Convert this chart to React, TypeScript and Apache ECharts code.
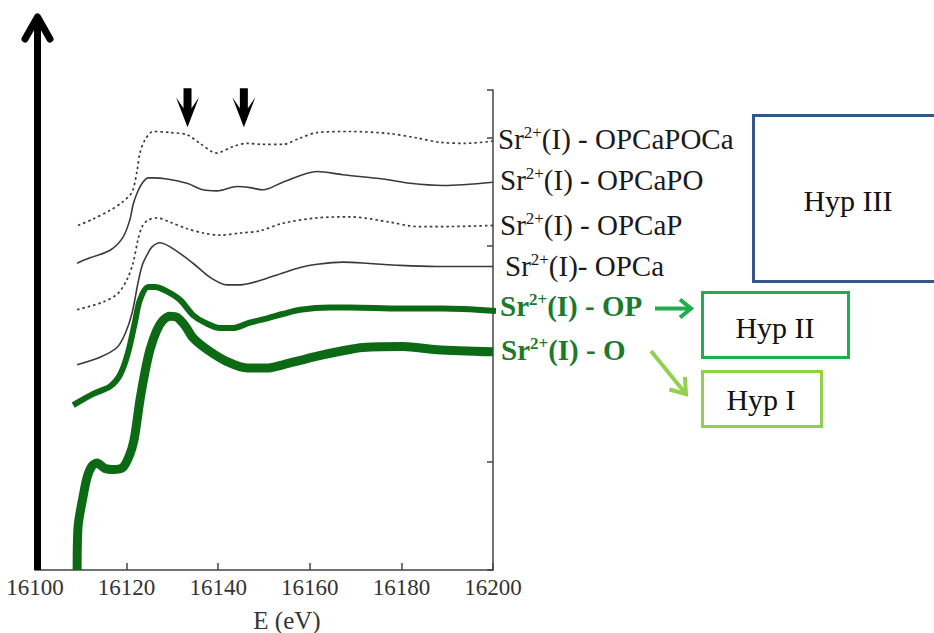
import React, { useEffect, useRef } from "react";
import * as echarts from "echarts";

const W = 934;
const H = 633;
const SERIF = "Liberation Serif, serif";

// X-ray absorption spectra (stacked with offsets), E in eV, absorbance in offset units
const opcapocaE = [16109.4, 16112.7, 16116.4, 16119.2, 16121.2, 16122.3, 16122.9, 16124.0, 16125.8, 16129.5, 16133.2, 16136.0, 16139.7, 16143.2, 16146.3, 16149.5, 16154.1, 16157.9, 16161.6, 16168.8, 16177.5, 16183.4, 16188.4, 16193.9, 16200];
const opcapocaY = [3.19, 3.25, 3.33, 3.41, 3.5, 3.7, 3.86, 3.98, 4.06, 4.05, 4.03, 3.95, 3.86, 3.92, 3.95, 3.94, 3.94, 4.0, 4.05, 4.06, 4.04, 4.0, 3.96, 3.95, 3.97];

const opcapoE = [16109.2, 16112.0, 16116.4, 16119.2, 16120.7, 16121.4, 16122.3, 16123.4, 16124.7, 16125.8, 16128.8, 16133.2, 16136.7, 16139.7, 16144.1, 16146.9, 16149.8, 16154.1, 16161.6, 16167.2, 16176.0, 16181.9, 16189.1, 16200];
const opcapoY = [2.84, 2.89, 2.96, 3.08, 3.24, 3.38, 3.49, 3.58, 3.63, 3.63, 3.62, 3.58, 3.52, 3.51, 3.55, 3.54, 3.52, 3.59, 3.69, 3.66, 3.62, 3.58, 3.56, 3.59];

const opcapE = [16109.2, 16114.8, 16118.1, 16120.1, 16121.4, 16122.5, 16123.4, 16124.7, 16126.6, 16129.5, 16133.2, 16136.7, 16140.4, 16144.8, 16149.1, 16154.1, 16161.6, 16168.8, 16177.5, 16183.4, 16190.6, 16200];
const opcapY = [2.41, 2.48, 2.56, 2.69, 2.84, 3.06, 3.18, 3.24, 3.26, 3.22, 3.16, 3.12, 3.1, 3.12, 3.14, 3.21, 3.26, 3.27, 3.22, 3.18, 3.18, 3.19];

const opcaE = [16109.2, 16114.2, 16117.9, 16119.7, 16121.2, 16122.5, 16123.4, 16124.5, 16125.5, 16127.3, 16131.0, 16134.5, 16138.2, 16141.9, 16144.8, 16149.1, 16154.1, 16157.9, 16161.6, 16167.2, 16172.5, 16179.7, 16187.8, 16200];
const opcaY = [1.9, 1.97, 2.06, 2.19, 2.38, 2.66, 2.82, 2.92, 2.99, 3.03, 2.95, 2.84, 2.71, 2.64, 2.64, 2.68, 2.75, 2.8, 2.83, 2.85, 2.84, 2.82, 2.81, 2.81];

const opE = [16108.9, 16112.7, 16116.4, 16118.6, 16120.3, 16121.8, 16122.9, 16124.7, 16126.2, 16128.8, 16131.7, 16134.5, 16137.1, 16140.4, 16143.2, 16146.9, 16150.7, 16154.1, 16157.9, 16164.4, 16168.8, 16179.7, 16189.1, 16200];
const opY = [1.54, 1.63, 1.7, 1.81, 2.01, 2.29, 2.5, 2.62, 2.62, 2.58, 2.5, 2.36, 2.29, 2.24, 2.24, 2.29, 2.33, 2.37, 2.41, 2.43, 2.43, 2.42, 2.42, 2.4];

const oE = [16109.2, 16109.4, 16110.5, 16111.4, 16112.4, 16113.5, 16115.3, 16117.0, 16119.2, 16120.7, 16121.6, 16122.3, 16122.9, 16124.0, 16125.1, 16126.6, 16127.9, 16129.5, 16131.0, 16132.8, 16134.5, 16137.6, 16141.9, 16146.3, 16150.7, 16154.1, 16157.9, 16161.6, 16167.2, 16171.6, 16180.3, 16187.8, 16200];
const oY = [0.0, 0.4, 0.68, 0.86, 0.96, 0.99, 0.94, 0.93, 0.95, 1.07, 1.2, 1.39, 1.57, 1.83, 2.04, 2.22, 2.31, 2.35, 2.34, 2.26, 2.15, 2.04, 1.93, 1.87, 1.87, 1.9, 1.94, 1.98, 2.03, 2.06, 2.07, 2.04, 2.02];

// feature markers (down arrows)
const featureE = [16133.3, 16145.6];
const featureLevel = 4.28;

const seriesNames = [
  "Sr2+(I) - OPCaPOCa",
  "Sr2+(I) - OPCaPO",
  "Sr2+(I) - OPCaP",
  "Sr2+(I)- OPCa",
  "Sr2+(I) - OP",
  "Sr2+(I) - O",
];
const labelSuffix = ["(I) - OPCaPOCa", "(I) - OPCaPO", "(I) - OPCaP", "(I)- OPCa", "(I) - OP", "(I) - O"];
const hypTexts = ["Hyp III", "Hyp II", "Hyp I"];

const zip = (xs: number[], ys: number[]) => xs.map((x, i) => [x, ys[i]]);

const DARK_GREEN = "#0d6a14";
const LABEL_GREEN = "#1c7a2b";
const MID_GREEN = "#1fae4b";
const LIGHT_GREEN = "#92d050";
const BLUE = "#34578a";

function seriesLabel(i: number, x: number, y: number, green: boolean) {
  const fw = green ? "bold" : "normal";
  const color = green ? LABEL_GREEN : "#1a1a1a";
  return {
    type: "text",
    x,
    y,
    z: 50,
    style: {
      text: `{m|Sr}{s|2+}{m|${labelSuffix[i]}}`,
      align: "left",
      verticalAlign: "middle",
      fontFamily: SERIF,
      rich: {
        m: { fontFamily: SERIF, fontSize: 29, fontWeight: fw, lineHeight: 30, fill: color, color },
        s: { fontFamily: SERIF, fontSize: 17, fontWeight: fw, lineHeight: 17, verticalAlign: "top", fill: color, color },
      },
    },
  };
}

function buildOption() {
  const thin = (name: string, e: number[], y: number[], dotted: boolean) => ({
    name,
    type: "line",
    data: zip(e, y),
    showSymbol: false,
    smooth: 0.3,
    clip: true,
    lineStyle: dotted
      ? { color: "#3a3a3a", width: 1.7, type: [2.5, 3] }
      : { color: "#3a3a3a", width: 1.6, type: "solid" },
    z: 3,
  });

  const tipX = 686, tipY = 394, fromX = 651, fromY = 351;
  const dx = tipX - fromX, dy = tipY - fromY;
  const len = Math.hypot(dx, dy);
  const ux = dx / len, uy = dy / len;
  const bx = tipX - 14 * ux, by = tipY - 14 * uy;

  return {
    animation: false,
    backgroundColor: "#ffffff",
    textStyle: { fontFamily: SERIF },
    grid: { left: 35, right: W - 493, top: 90, bottom: H - 570, containLabel: false, outerBoundsMode: "none" },
    xAxis: {
      type: "value",
      min: 16100,
      max: 16200,
      interval: 20,
      axisLine: { show: true, lineStyle: { color: "#444", width: 1.5 } },
      axisTick: { show: true, inside: true, length: 7, lineStyle: { color: "#444", width: 1.5 } },
      axisLabel: {
        show: true,
        fontFamily: SERIF,
        fontSize: 23,
        color: "#333",
        margin: 6,
        showMinLabel: true,
        showMaxLabel: true,
        formatter: (v: number) => String(v),
      },
      splitLine: { show: false },
      name: "E (eV)",
      nameLocation: "middle",
      nameGap: 38,
      nameTextStyle: { fontFamily: SERIF, fontSize: 25, color: "#333", padding: [0, 0, 0, 46] },
    },
    yAxis: {
      type: "value",
      position: "right",
      min: 0,
      max: 4.444,
      interval: 1,
      axisLine: { show: true, lineStyle: { color: "#444", width: 1.5 } },
      axisTick: { show: true, inside: true, length: 6, lineStyle: { color: "#444", width: 1.5 } },
      axisLabel: { show: false },
      splitLine: { show: false },
    },
    series: [
      thin(seriesNames[0], opcapocaE, opcapocaY, true),
      thin(seriesNames[1], opcapoE, opcapoY, false),
      thin(seriesNames[2], opcapE, opcapY, true),
      thin(seriesNames[3], opcaE, opcaY, false),
      {
        name: seriesNames[4],
        type: "line",
        data: zip(opE, opY),
        showSymbol: false,
        smooth: 0.3,
        lineStyle: { color: DARK_GREEN, width: 6, cap: "square" },
        z: 4,
      },
      {
        name: seriesNames[5],
        type: "line",
        data: zip(oE, oY),
        showSymbol: false,
        smooth: 0.3,
        lineStyle: { color: DARK_GREEN, width: 9 },
        z: 5,
      },
      {
        name: "features",
        type: "scatter",
        data: featureE.map((e) => [e, featureLevel]),
        symbol: "path://M7.5,0 L15.5,0 L15.5,20 L23,9 L11.5,39 L0,9 L7.5,20 Z",
        symbolSize: [23, 39],
        itemStyle: { color: "#000", opacity: 1 },
        clip: false,
        silent: true,
        z: 6,
      },
    ],
    graphic: [
      // left intensity arrow
      { type: "line", z: 40, shape: { x1: 37.5, y1: 570, x2: 37.5, y2: 18 }, style: { stroke: "#000", lineWidth: 7 } },
      {
        type: "polyline",
        z: 40,
        shape: { points: [[25, 39], [37.5, 17], [50, 39]] },
        style: { stroke: "#000", lineWidth: 7, lineCap: "round", lineJoin: "round", fill: null },
      },
      seriesLabel(0, 498, 139, false),
      seriesLabel(1, 500, 180, false),
      seriesLabel(2, 500, 225, false),
      seriesLabel(3, 505, 266, false),
      seriesLabel(4, 500, 306, true),
      seriesLabel(5, 501, 350, true),
      // hypothesis boxes
      { type: "rect", z: 30, shape: { x: 753.5, y: 115.5, width: 210, height: 166 }, style: { fill: "#fff", stroke: BLUE, lineWidth: 3 } },
      { type: "rect", z: 30, shape: { x: 702.5, y: 292.5, width: 146, height: 65 }, style: { fill: "#fff", stroke: MID_GREEN, lineWidth: 3 } },
      { type: "rect", z: 30, shape: { x: 702.5, y: 371.5, width: 119, height: 55 }, style: { fill: "#fff", stroke: LIGHT_GREEN, lineWidth: 3 } },
      { type: "text", z: 31, x: 848, y: 200, style: { text: hypTexts[0], fontFamily: SERIF, fontSize: 30, fill: "#111", align: "center", verticalAlign: "middle" } },
      { type: "text", z: 31, x: 775, y: 327, style: { text: hypTexts[1], fontFamily: SERIF, fontSize: 30, fill: "#111", align: "center", verticalAlign: "middle" } },
      { type: "text", z: 31, x: 761, y: 399, style: { text: hypTexts[2], fontFamily: SERIF, fontSize: 30, fill: "#111", align: "center", verticalAlign: "middle" } },
      // arrows to hypotheses
      { type: "line", z: 31, shape: { x1: 655, y1: 308.5, x2: 689, y2: 308.5 }, style: { stroke: MID_GREEN, lineWidth: 4 } },
      {
        type: "polyline",
        z: 31,
        shape: { points: [[680, 299.5], [691, 308.5], [680, 317.5]] },
        style: { stroke: MID_GREEN, lineWidth: 4, fill: null, lineJoin: "miter" },
      },
      { type: "line", z: 31, shape: { x1: fromX, y1: fromY, x2: tipX - 2 * ux, y2: tipY - 2 * uy }, style: { stroke: LIGHT_GREEN, lineWidth: 4 } },
      {
        type: "polyline",
        z: 31,
        shape: {
          points: [
            [bx - 10 * -uy, by - 10 * ux],
            [tipX, tipY],
            [bx + 10 * -uy, by + 10 * ux],
          ],
        },
        style: { stroke: LIGHT_GREEN, lineWidth: 4, fill: null },
      },
    ],
  };
}

export default function App() {
  const ref = useRef<HTMLDivElement>(null);
  useEffect(() => {
    document.body.style.margin = "0";
    const el = ref.current as HTMLDivElement;
    const chart = echarts.init(el, null, { renderer: "svg", width: W, height: H });
    chart.setOption(buildOption() as any);
    return () => chart.dispose();
  }, []);
  return <div ref={ref} style={{ position: "absolute", left: 0, top: 0, width: W, height: H }} />;
}
